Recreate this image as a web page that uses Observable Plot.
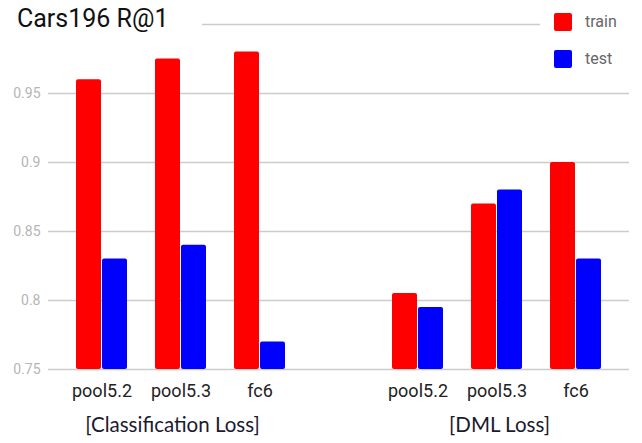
<!DOCTYPE html>
<html>
<head>
<meta charset="utf-8">
<script src="https://cdn.jsdelivr.net/npm/d3@7"></script>
<script src="https://cdn.jsdelivr.net/npm/@observablehq/plot@0.6"></script>
<style>
  body { margin: 0; background: #fff; }
  #wrap { position: relative; width: 642px; height: 443px; overflow: hidden; font-family: Roboto, sans-serif; }
  #title { position: absolute; left: 0; top: 4px; width: 185px; height: 38px; padding-left: 17px; background: #fff;
           font-size: 25px; line-height: 30px; color: #111; }
  #legend { position: absolute; left: 540px; top: 0; width: 102px; height: 76px; background: #fff; }
  .item { position: absolute; left: 14px; height: 18px; font-size: 16px; color: #666; }
  .sw { position: absolute; left: 0; top: 0; width: 18px; height: 18px; border-radius: 2px; }
  .lab { position: absolute; left: 31px; top: -1px; line-height: 20px; white-space: nowrap; }
</style>
</head>
<body>
<div id="wrap">
  <div id="chart"></div>
  <div id="title"></div>
  <div id="legend"></div>
</div>
<script>
const titleText = "Cars196 R@1";
const xKeys = ["cls-pool5.2", "cls-pool5.3", "cls-fc6", "gap", "dml-pool5.2", "dml-pool5.3", "dml-fc6"];
const xLabels = ["pool5.2", "pool5.3", "fc6", "", "pool5.2", "pool5.3", "fc6"];
const barKeys = ["cls-pool5.2", "cls-pool5.3", "cls-fc6", "dml-pool5.2", "dml-pool5.3", "dml-fc6"];
const series = ["train", "test"];
const seriesColors = ["#ff0000", "#0000ff"];
const trainValues = [0.96, 0.975, 0.98, 0.805, 0.87, 0.90];
const testValues = [0.83, 0.84, 0.77, 0.795, 0.88, 0.83];
const groupKeys = ["cls-pool5.3", "dml-pool5.3"];
const groupLabels = ["[Classification Loss]", "[DML Loss]"];
const yDomain = [0.75, 1.0];
const yTicks = [0.75, 0.8, 0.85, 0.9, 0.95];
const yTickLabels = ["0.75", "0.8", "0.85", "0.9", "0.95"];
const gridValues = [0.75, 0.8, 0.85, 0.9, 0.95, 1.0];

const trainData = barKeys.map((k, i) => ({key: k, series: "train", value: trainValues[i]}));
const testData = barKeys.map((k, i) => ({key: k, series: "test", value: testValues[i]}));

const chart = Plot.plot({
  width: 642,
  height: 443,
  marginLeft: 48,
  marginRight: 13,
  marginTop: 24,
  marginBottom: 74,
  style: {fontFamily: "Roboto, sans-serif", background: "white"},
  x: {type: "band", domain: xKeys, padding: 0.354, axis: null},
  y: {domain: yDomain, axis: null},
  color: {domain: series, range: seriesColors},
  marks: [
    Plot.ruleY(gridValues, {stroke: "#cccccc", strokeWidth: 1.4}),
    Plot.barY(trainData, {x: "key", y1: () => yDomain[0], y2: "value", fill: "series", insetRight: 26, rx: 2}),
    Plot.barY(testData, {x: "key", y1: () => yDomain[0], y2: "value", fill: "series", insetLeft: 26, rx: 2}),
    Plot.axisY({ticks: yTicks, tickFormat: d => yTickLabels[yTicks.indexOf(d)], tickSize: 0, tickPadding: 8,
                fill: "#b5b5b5", fontSize: 14, label: null}),
    Plot.axisX({ticks: barKeys, tickFormat: k => xLabels[xKeys.indexOf(k)], tickSize: 0, tickPadding: 15,
                fill: "#222", fontSize: 18, label: null}),
    Plot.text([{key: groupKeys[0], label: groupLabels[0]}], {x: "key", text: "label", frameAnchor: "bottom", dy: 56, dx: -8.5,
               fontSize: 20.5, fontFamily: "Lato, sans-serif", fill: "#1a1a2e", lineAnchor: "middle"}),
    Plot.text([{key: groupKeys[1], label: groupLabels[1]}], {x: "key", text: "label", frameAnchor: "bottom", dy: 56, dx: 2.5,
               fontSize: 20.5, fontFamily: "Lato, sans-serif", fill: "#1a1a2e", lineAnchor: "middle"})
  ]
});
document.getElementById("chart").appendChild(chart);
document.getElementById("title").textContent = titleText;

const legend = document.getElementById("legend");
series.forEach((s, i) => {
  const item = document.createElement("div");
  item.className = "item";
  item.style.top = (13 + i * 36.5) + "px";
  const sw = document.createElement("div");
  sw.className = "sw";
  sw.style.background = seriesColors[i];
  const lab = document.createElement("div");
  lab.className = "lab";
  lab.textContent = s;
  item.appendChild(sw);
  item.appendChild(lab);
  legend.appendChild(item);
});
</script>
</body>
</html>
